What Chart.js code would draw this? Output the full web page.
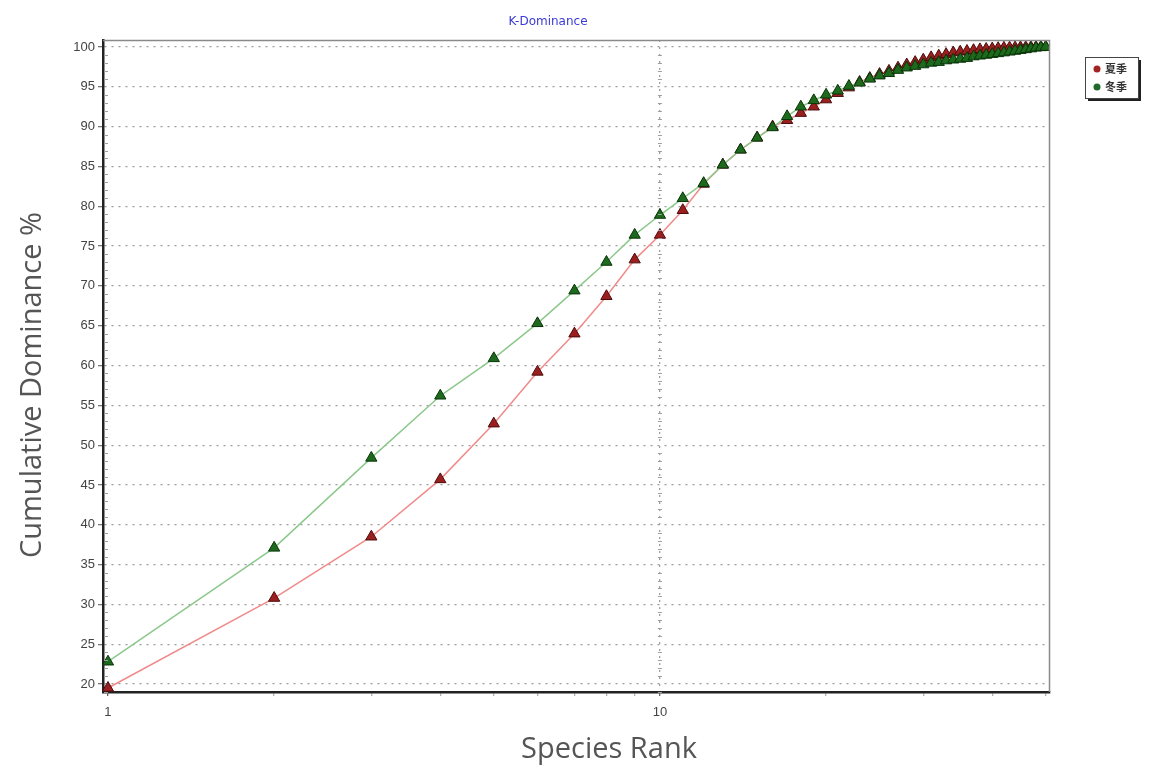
<!DOCTYPE html>
<html>
<head>
<meta charset="utf-8">
<script src="https://cdn.jsdelivr.net/npm/chart.js@4.4.1/dist/chart.umd.min.js"></script>
<style>
  html, body { margin: 0; padding: 0; background: #ffffff; }
  #wrap { width: 1154px; height: 776px; position: relative; }
</style>
</head>
<body>
<div id="wrap"><canvas id="c" width="1154" height="776"></canvas></div>
<script>
// Species rank (x, log scale)
const ranks = [1, 2, 3, 4, 5, 6, 7, 8, 9, 10,
  11, 12, 13, 14, 15, 16, 17, 18, 19, 20,
  21, 22, 23, 24, 25, 26, 27, 28, 29, 30,
  31, 32, 33, 34, 35, 36, 37, 38, 39, 40,
  41, 42, 43, 44, 45, 46, 47, 48, 49, 50];

const seriesNames = ['夏季', '冬季'];

// Cumulative dominance % per rank
const summerValues = [19.5, 30.8, 38.5, 45.7, 52.7, 59.2, 64.0, 68.7, 73.3, 76.4,
  79.5, 82.8, 85.2, 87.1, 88.6, 90.0, 90.8, 91.7, 92.5, 93.4,
  94.2, 94.9, 95.6, 96.1, 96.6, 97.0, 97.4, 97.8, 98.1, 98.4,
  98.7, 98.9, 99.1, 99.3, 99.4, 99.5, 99.6, 99.7, 99.75, 99.8,
  99.85, 99.9, 99.92, 99.94, 99.96, 99.97, 99.98, 99.99, 100, 100];

const winterValues = [22.8, 37.1, 48.4, 56.2, 60.9, 65.3, 69.4, 73.0, 76.4, 78.9,
  81.0, 82.9, 85.2, 87.1, 88.6, 89.9, 91.3, 92.5, 93.3, 94.0,
  94.5, 95.1, 95.5, 96.0, 96.4, 96.7, 97.1, 97.4, 97.6, 97.8,
  98.0, 98.1, 98.3, 98.4, 98.5, 98.6, 98.8, 98.9, 99.0, 99.1,
  99.2, 99.3, 99.4, 99.5, 99.6, 99.7, 99.8, 99.9, 99.95, 100];

const yTickValues = [20, 25, 30, 35, 40, 45, 50, 55, 60, 65, 70, 75, 80, 85, 90, 95, 100];
const xTickValues = [1, 2, 3, 4, 5, 6, 7, 8, 9, 10, 20, 30, 40, 50];
const xLabelledTicks = [1, 10];

const chartTitle = 'K-Dominance';
const xAxisTitle = 'Species Rank';
const yAxisTitle = 'Cumulative Dominance %';

const styles = [
  { line: '#f08a8a', fill: '#9b1f1f', edge: '#4a0c0c', dot: '#a32323' },
  { line: '#8cc88c', fill: '#1d6a1d', edge: '#0a330a', dot: '#1f6a2a' }
];

function toPoints(values) {
  return ranks.map((r, i) => ({ x: r, y: values[i] }));
}

const datasets = [summerValues, winterValues].map((vals, i) => ({
  label: seriesNames[i],
  data: toPoints(vals),
  borderColor: styles[i].line,
  borderWidth: 1.5,
  backgroundColor: styles[i].fill,
  pointStyle: 'triangle',
  pointRadius: 6.5,
  pointBackgroundColor: styles[i].fill,
  pointBorderColor: styles[i].edge,
  pointBorderWidth: 1,
  tension: 0,
  order: i === 0 ? 1 : 0
}));

// frame, minor ticks, titles and legend box
const decorations = {
  id: 'decorations',
  afterDraw(chart) {
    const { ctx, chartArea: a, scales: { x, y } } = chart;
    ctx.save();

    // top and right border of the plot frame
    ctx.strokeStyle = '#8a8a8a';
    ctx.lineWidth = 1.5;
    ctx.beginPath();
    ctx.moveTo(a.left, a.top + 0.5);
    ctx.lineTo(a.right - 0.5, a.top + 0.5);
    ctx.lineTo(a.right - 0.5, a.bottom);
    ctx.stroke();

    // minor ticks every unit along the left axis and the rank-10 line
    ctx.strokeStyle = '#a0a0a0';
    ctx.lineWidth = 1;
    const x10 = x.getPixelForValue(10);
    for (let v = Math.ceil(y.min); v <= Math.floor(y.max); v++) {
      if (v % 5 === 0) continue;
      const py = Math.round(y.getPixelForValue(v)) + 0.5;
      ctx.beginPath();
      ctx.moveTo(a.left + 1, py);
      ctx.lineTo(a.left + 5, py);
      ctx.moveTo(x10 - 2, py);
      ctx.lineTo(x10 + 2, py);
      ctx.stroke();
    }

    // chart title
    ctx.fillStyle = '#3a3ad8';
    ctx.font = '12px "DejaVu Sans"';
    ctx.textAlign = 'center';
    ctx.textBaseline = 'alphabetic';
    ctx.fillText(chartTitle, 548, 25);

    // axis titles
    ctx.fillStyle = '#555555';
    ctx.font = '29px "Open Sans"';
    ctx.fillText(xAxisTitle, 609, 758);
    ctx.save();
    ctx.translate(41, 385);
    ctx.rotate(-Math.PI / 2);
    ctx.fillText(yAxisTitle, 0, 0);
    ctx.restore();

    // legend box with drop shadow
    const bx = 1085, by = 57, bw = 53, bh = 41;
    ctx.fillStyle = '#222222';
    ctx.fillRect(bx + 3, by + 3, bw, bh);
    ctx.fillStyle = '#ffffff';
    ctx.fillRect(bx, by, bw, bh);
    ctx.strokeStyle = '#444444';
    ctx.lineWidth = 1;
    ctx.strokeRect(bx + 0.5, by + 0.5, bw, bh);
    ctx.font = 'bold 11px "Noto Sans CJK SC"';
    ctx.textAlign = 'left';
    ctx.textBaseline = 'middle';
    seriesNames.forEach((name, i) => {
      const ry = by + 12 + i * 18;
      ctx.fillStyle = styles[i].dot;
      ctx.beginPath();
      ctx.arc(bx + 12, ry, 3.5, 0, Math.PI * 2);
      ctx.fill();
      ctx.fillStyle = '#333333';
      ctx.fillText(name, bx + 20, ry);
    });

    ctx.restore();
  }
};

new Chart(document.getElementById('c'), {
  type: 'line',
  data: { datasets },
  options: {
    responsive: false,
    animation: false,
    events: [],
    layout: { padding: { top: 40, right: 104, left: 0, bottom: 0 } },
    plugins: { legend: { display: false }, tooltip: { enabled: false }, title: { display: false } },
    scales: {
      x: {
        type: 'logarithmic',
        min: 0.9794,
        max: 50.9,
        afterFit(s) { s.height = 84; },
        afterBuildTicks(s) { s.ticks = xTickValues.map(v => ({ value: v })); },
        border: { display: true, color: '#222222', width: 2.5, dash: [2, 5] },
        grid: {
          drawOnChartArea: true,
          color: c => (c.tick && c.tick.value === 10 ? '#a0a0a0' : 'rgba(0,0,0,0)'),
          tickColor: c => (c.tick && xLabelledTicks.includes(c.tick.value) ? '#666666' : '#b0b0b0'),
          tickBorderDash: [],
          lineWidth: 1.3,
          tickLength: 4
        },
        ticks: {
          autoSkip: false,
          maxRotation: 0,
          padding: 9,
          color: '#444444',
          font: { family: 'Liberation Sans', size: 13 },
          callback: v => (xLabelledTicks.includes(v) ? String(v) : '')
        }
      },
      y: {
        type: 'linear',
        min: 19.0,
        max: 100.88,
        afterFit(s) { s.width = 103; },
        afterBuildTicks(s) { s.ticks = yTickValues.map(v => ({ value: v })); },
        border: { display: true, color: '#222222', width: 2.5, dash: [2, 5] },
        grid: {
          color: '#9c9c9c',
          tickColor: '#777777',
          tickBorderDash: [],
          lineWidth: 1.3,
          tickLength: 5
        },
        ticks: {
          padding: 3,
          color: '#444444',
          font: { family: 'Liberation Sans', size: 13 }
        }
      }
    }
  },
  plugins: [decorations]
});
</script>
</body>
</html>
